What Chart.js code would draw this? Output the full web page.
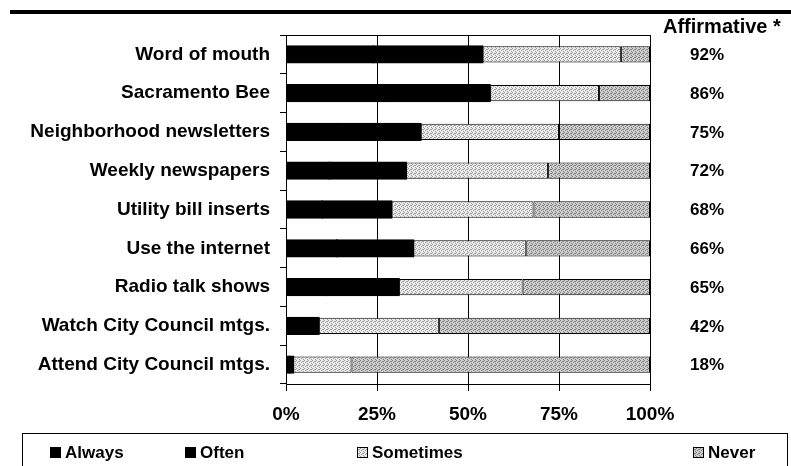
<!DOCTYPE html>
<html>
<head>
<meta charset="utf-8">
<script src="https://cdn.jsdelivr.net/npm/chart.js@4.4.0/dist/chart.umd.min.js"></script>
<style>
  html, body { margin: 0; padding: 0; background: #fff; }
</style>
</head>
<body>
<canvas id="media_usage" width="791" height="466"></canvas>
<script>
// Survey: how often people get city information from each source (percent of respondents)
const categories = [
  'Word of mouth',
  'Sacramento Bee',
  'Neighborhood newsletters',
  'Weekly newspapers',
  'Utility bill inserts',
  'Use the internet',
  'Radio talk shows',
  'Watch City Council mtgs.',
  'Attend City Council mtgs.'
];
const always    = [24, 27, 14, 12, 10, 14, 11, 3, 1];
const often     = [30, 29, 23, 21, 19, 21, 20, 6, 1];
const sometimes = [38, 30, 38, 39, 39, 31, 34, 33, 16];
const never     = [8, 14, 25, 28, 32, 34, 35, 58, 82];
const affirmative = [92, 86, 75, 72, 68, 66, 65, 42, 18];
const xTickValues = [0, 25, 50, 75, 100];
const seriesNames = ['Always', 'Often', 'Sometimes', 'Never'];

const FONT = '"Liberation Sans", Arial, sans-serif';

// dotted grey fills, like the printed halftone
function stipple(base, dot) {
  const c = document.createElement('canvas');
  c.width = 4; c.height = 4;
  const g = c.getContext('2d');
  g.fillStyle = base;
  g.fillRect(0, 0, 4, 4);
  g.fillStyle = dot;
  [[0, 0], [2, 1], [1, 2], [3, 3], [3, 1]].forEach(([x, y]) => g.fillRect(x, y, 1, 1));
  return g.createPattern(c, 'repeat');
}
const sometimesFill = stipple('#ececec', '#9a9a9a');
const neverFill = stipple('#cfcfcf', '#7c7c7c');
const fills = ['#000', '#000', sometimesFill, neverFill];

const extras = {
  id: 'extras',
  afterDraw(chart) {
    const { ctx, chartArea, scales } = chart;
    ctx.save();
    ctx.strokeStyle = '#000';
    ctx.fillStyle = '#000';

    // top edge of the plot frame
    ctx.lineWidth = 1;
    ctx.beginPath();
    ctx.moveTo(chartArea.left - 6, Math.round(chartArea.top) + 0.5);
    ctx.lineTo(chartArea.right, Math.round(chartArea.top) + 0.5);
    ctx.stroke();

    // heavy rule across the top
    ctx.lineWidth = 4;
    ctx.beginPath();
    ctx.moveTo(10, 12);
    ctx.lineTo(791, 12);
    ctx.stroke();

    // affirmative column
    ctx.font = 'bold 20px ' + FONT;
    ctx.textAlign = 'left';
    ctx.textBaseline = 'alphabetic';
    ctx.fillText('Affirmative *', 663, 33);
    ctx.font = 'bold 17px ' + FONT;
    ctx.textAlign = 'center';
    ctx.textBaseline = 'middle';
    affirmative.forEach((v, i) => {
      ctx.fillText(v + '%', 707, scales.y.getPixelForValue(i) + 1);
    });

    // legend box
    ctx.lineWidth = 1;
    ctx.strokeRect(22.5, 433.5, 765, 40);
    const itemX = [50, 185, 357, 693];
    ctx.font = 'bold 17px ' + FONT;
    ctx.textAlign = 'left';
    seriesNames.forEach((name, i) => {
      ctx.fillStyle = fills[i];
      ctx.fillRect(itemX[i], 447, 11, 11);
      ctx.strokeRect(itemX[i] + 0.5, 447.5, 10, 10);
      ctx.fillStyle = '#000';
      ctx.fillText(name, itemX[i] + 15, 453);
    });
    ctx.restore();
  }
};

const ctx = document.getElementById('media_usage').getContext('2d');
const usageChart = new Chart(ctx, {
  type: 'bar',
  data: {
    labels: categories,
    datasets: [always, often, sometimes, never].map((values, i) => ({
      label: seriesNames[i],
      data: values,
      backgroundColor: fills[i],
      borderColor: '#000',
      borderWidth: 1,
      borderSkipped: false,
      inflateAmount: i < 2 ? 1 : 0,
      categoryPercentage: 1.0,
      barPercentage: 0.42
    }))
  },
  options: {
    indexAxis: 'y',
    responsive: false,
    animation: false,
    layout: { padding: { top: 35, right: 141, left: 0, bottom: 0 } },
    plugins: {
      legend: { display: false },
      tooltip: { enabled: false }
    },
    scales: {
      x: {
        stacked: true,
        min: 0,
        max: 100,
        afterBuildTicks: scale => { scale.ticks = xTickValues.map(v => ({ value: v })); },
        afterFit: scale => { scale.height = 82; },
        grid: { color: '#000', lineWidth: 1, tickLength: 7 },
        border: { color: '#000', width: 1 },
        ticks: {
          color: '#000',
          padding: 12,
          maxRotation: 0,
          font: { family: FONT, size: 19, weight: 'bold' },
          callback: v => v + '%'
        }
      },
      y: {
        stacked: true,
        afterFit: scale => { scale.width = 286; },
        grid: { drawOnChartArea: false, color: '#000', tickLength: 6 },
        border: { color: '#000', width: 1 },
        ticks: {
          color: '#000',
          padding: 10,
          font: { family: FONT, size: 19, weight: 'bold' }
        }
      }
    }
  },
  plugins: [extras]
});
</script>
</body>
</html>
